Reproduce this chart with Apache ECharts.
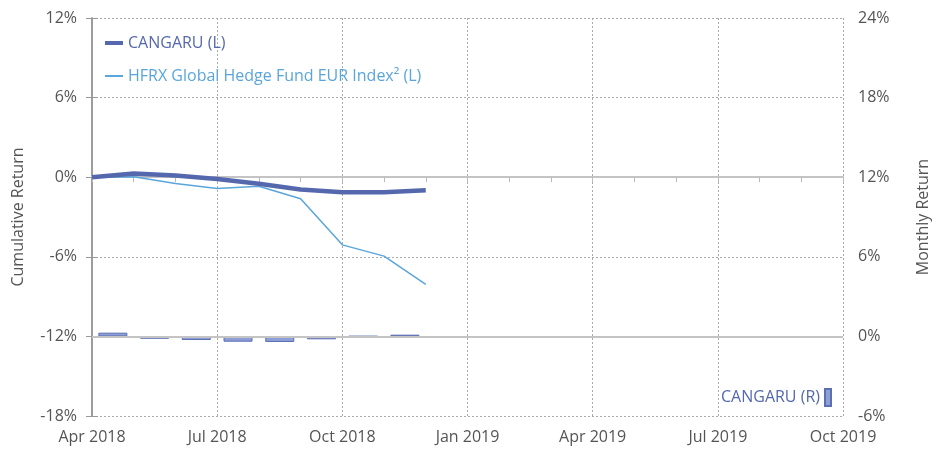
<!DOCTYPE html>
<html>
<head>
<meta charset="utf-8">
<script src="https://cdn.jsdelivr.net/npm/echarts@6/dist/echarts.min.js"></script>
<style>
  html, body { margin: 0; padding: 0; background: #fff; }
  #chart { width: 945px; height: 450px; }
</style>
</head>
<body>
<div id="chart"></div>
<script>
// month index: 0 = Apr 2018 ... 18 = Oct 2019
const tickLabels = ['Apr 2018', 'Jul 2018', 'Oct 2018', 'Jan 2019', 'Apr 2019', 'Jul 2019', 'Oct 2019'];
const lineMonths = [0, 1, 2, 3, 4, 5, 6, 7, 8];
const cangaruCum = [0.0, 0.28, 0.12, -0.13, -0.5, -0.93, -1.13, -1.13, -0.98];
const hfrxCum = [0.0, 0.03, -0.48, -0.85, -0.68, -1.63, -5.1, -5.95, -8.07];
const barMonths = [0.5, 1.5, 2.5, 3.5, 4.5, 5.5, 6.5, 7.5];
const cangaruMonthly = [0.28, -0.18, -0.27, -0.4, -0.42, -0.22, 0.02, 0.13];

const DARK = '#5568ad';
const LIGHT = '#5aa5dc';
const FONT = 'Open Sans';

const pair = (xs, ys) => xs.map((x, i) => [x, ys[i]]);

const chart = echarts.init(document.getElementById('chart'), null, { renderer: 'canvas' });

chart.setOption({
    animation: false,
    textStyle: { fontFamily: FONT },
    grid: { left: 92, right: 102, top: 18, bottom: 34 },
    legend: [{
        left: 100, top: 30,
        itemWidth: 18, itemHeight: 4, icon: 'rect',
        data: ['CANGARU (L)'],
        textStyle: { color: DARK, fontSize: 16, fontFamily: FONT }
    }, {
        left: 100, top: 63,
        itemWidth: 18, itemHeight: 2, icon: 'rect',
        data: ['HFRX Global Hedge Fund EUR Index² (L)'],
        textStyle: { color: LIGHT, fontSize: 16, fontFamily: FONT }
    }, {
        right: 108, top: 383, align: 'right',
        itemWidth: 6, itemHeight: 17, icon: 'rect',
        data: ['CANGARU (R)'],
        textStyle: { color: DARK, fontSize: 16, fontFamily: FONT }
    }],
    xAxis: [{
        type: 'value', min: 0, max: 18, interval: 3,
        axisLine: { show: false },
        axisTick: { show: false },
        axisLabel: {
            color: '#555', fontSize: 16, margin: 13,
            formatter: v => tickLabels[v / 3]
        },
        splitLine: { show: true, lineStyle: { type: [2, 2], color: '#aaa', width: 1 } }
    }, {
        type: 'value', min: 0, max: 18, interval: 1, position: 'bottom',
        axisLine: { onZero: true, onZeroAxisIndex: 0, lineStyle: { color: '#c4c4c4', width: 2 } },
        axisTick: { show: true, length: 5, lineStyle: { color: '#bbb', width: 1 } },
        axisLabel: { show: false },
        splitLine: { show: false }
    }],
    yAxis: [{
        type: 'value', min: -18, max: 12, interval: 6,
        name: 'Cumulative Return', nameLocation: 'middle', nameGap: 66,
        nameTextStyle: { color: '#555', fontSize: 16 },
        axisLine: { show: true, lineStyle: { color: '#999', width: 1.5 } },
        axisTick: { show: true, length: 6, lineStyle: { color: '#999' } },
        axisLabel: { color: '#555', fontSize: 16, margin: 15, formatter: '{value}%' },
        splitLine: { show: true, lineStyle: { type: [2, 2], color: '#aaa', width: 1 } }
    }, {
        type: 'value', min: -6, max: 24, interval: 6, position: 'right',
        name: 'Monthly Return', nameLocation: 'middle', nameGap: 72,
        nameTextStyle: { color: '#555', fontSize: 16 },
        axisLine: { show: true, lineStyle: { color: '#999', width: 1.5 } },
        axisTick: { show: true, length: 6, lineStyle: { color: '#999' } },
        axisLabel: { color: '#555', fontSize: 16, margin: 15, formatter: '{value}%' },
        splitLine: { show: false }
    }],
    series: [{
        name: 'CANGARU (R)',
        type: 'bar',
        xAxisIndex: 0, yAxisIndex: 1,
        barWidth: 29,
        itemStyle: { color: '#8d9fd6', borderColor: '#5b6fb3', borderWidth: 1 },
        data: pair(barMonths, cangaruMonthly),
        markLine: {
            silent: true, symbol: 'none', label: { show: false },
            lineStyle: { color: '#c4c4c4', width: 2, type: 'solid' },
            data: [{ yAxis: 0 }]
        }
    }, {
        name: 'HFRX Global Hedge Fund EUR Index² (L)',
        type: 'line',
        xAxisIndex: 0, yAxisIndex: 0,
        showSymbol: false, symbol: 'none',
        lineStyle: { color: LIGHT, width: 1.5 },
        itemStyle: { color: LIGHT },
        data: pair(lineMonths, hfrxCum)
    }, {
        name: 'CANGARU (L)',
        type: 'line',
        xAxisIndex: 0, yAxisIndex: 0,
        showSymbol: false, symbol: 'none',
        lineStyle: { color: DARK, width: 4.5 },
        itemStyle: { color: DARK },
        data: pair(lineMonths, cangaruCum)
    }]
});
</script>
</body>
</html>
